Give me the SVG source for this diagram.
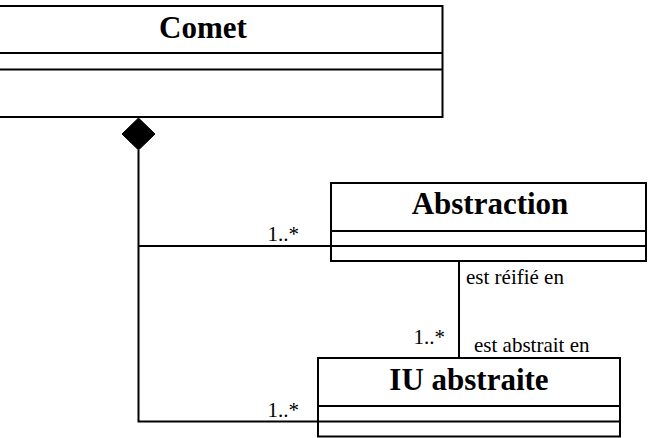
<svg xmlns="http://www.w3.org/2000/svg" width="653" height="438" viewBox="0 0 653 438">
  <style>
    .box { fill: #ffffff; stroke: #000000; stroke-width: 2; }
    .div { stroke: #000000; stroke-width: 2; }
    .title { font-family: 'Liberation Serif', serif; font-weight: bold; font-size: 31px; fill: #000000; text-anchor: middle; }
    .lbl { font-family: 'Liberation Serif', serif; font-size: 21px; fill: #000000; }
    .conn { fill: none; stroke: #000000; stroke-width: 2; }
  </style>
  <rect width="653" height="438" fill="#ffffff"/>

  <!-- connectors -->
  <g id="connectors">
    <!-- composition from Comet -->
    <polygon points="138.5,118 155,134 138.5,150 122,134" fill="#000000" stroke="#000000" stroke-width="1"/>
    <polyline class="conn" points="138.5,150 138.5,421.5 318,421.5"/>
    <line class="conn" x1="138.5" y1="246" x2="331" y2="246"/>
    <text class="lbl" x="299" y="240.5" text-anchor="end">1..*</text>
    <text class="lbl" x="299" y="416.5" text-anchor="end">1..*</text>
    <!-- Abstraction / IU abstraite -->
    <line class="conn" x1="459" y1="261" x2="459" y2="358"/>
    <text class="lbl" x="466" y="284">est réifié en</text>
    <text class="lbl" x="445" y="343.5" text-anchor="end">1..*</text>
    <text class="lbl" x="474" y="352">est abstrait en</text>
  </g>

  <g id="comet">
    <rect class="box" x="-40" y="6" width="482.5" height="111"/>
    <line class="div" x1="-40" y1="53" x2="442.5" y2="53"/>
    <line class="div" x1="-40" y1="69.5" x2="442.5" y2="69.5"/>
    <text class="title" x="203" y="38">Comet</text>
  </g>

  <g id="abstraction">
    <rect class="box" x="331" y="183" width="315" height="78"/>
    <line class="div" x1="331" y1="231" x2="646" y2="231"/>
    <line class="div" x1="331" y1="246" x2="646" y2="246"/>
    <text class="title" x="490" y="214">Abstraction</text>
  </g>

  <g id="iu-abstraite">
    <rect class="box" x="318" y="358" width="302" height="78.5"/>
    <line class="div" x1="318" y1="406" x2="620" y2="406"/>
    <line class="div" x1="318" y1="421.5" x2="620" y2="421.5"/>
    <text class="title" x="469" y="390">IU abstraite</text>
  </g>
</svg>
